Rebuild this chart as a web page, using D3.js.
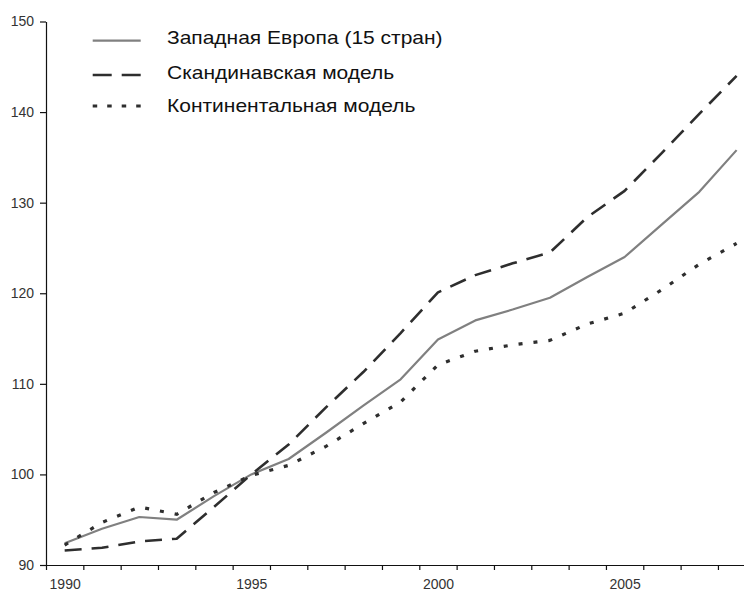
<!DOCTYPE html>
<html>
<head>
<meta charset="utf-8">
<script src="https://cdn.jsdelivr.net/npm/d3@7"></script>
<style>
  html, body { margin: 0; padding: 0; background: #fff; }
  svg { display: block; }
</style>
</head>
<body>
<script>
// ---- data ----
const years = [1990,1991,1992,1993,1994,1995,1996,1997,1998,1999,2000,2001,2002,2003,2004,2005,2006,2007,2008];
const westernEurope = [92.4,94.0,95.3,95.0,97.6,100.0,101.7,104.6,107.6,110.5,114.9,117.0,118.2,119.5,121.8,124.0,127.6,131.2,135.8];
const scandinavian  = [91.6,91.9,92.6,92.9,96.4,100.0,103.3,107.4,111.3,115.6,120.1,122.0,123.3,124.5,128.4,131.3,135.5,139.8,144.0];
const continental   = [92.2,94.7,96.4,95.6,98.0,99.9,101.0,103.1,105.6,108.0,112.1,113.6,114.3,114.8,116.6,117.8,120.4,123.2,125.5];
const seriesNames = ["Западная Европа (15 стран)", "Скандинавская модель", "Континентальная модель"];
const yTicks = [90,100,110,120,130,140,150];
const labelEvery = 5;

// ---- layout ----
const W = 744, H = 594;
const x0 = 46, band = 37.33, yBottom = 565, yTop = 21.5;

const svg = d3.select("body").append("svg").attr("width", W).attr("height", H);

const xEdge = d3.scaleLinear().domain([0, years.length]).range([x0, x0 + years.length * band]);
const y = d3.scaleLinear().domain([90, 150]).range([yBottom, yTop]);

const tickFont = "'Liberation Sans', Arial, sans-serif";

// y axis
const yAxis = svg.append("g")
  .attr("transform", `translate(${x0},0)`)
  .call(d3.axisLeft(y).tickValues(yTicks).tickSize(6).tickSizeOuter(0).tickPadding(6).tickFormat(d3.format("d")));
yAxis.selectAll("path, line").attr("stroke", "#111").attr("stroke-width", 1.2);
yAxis.selectAll("text").attr("font-family", tickFont).attr("font-size", 14).attr("fill", "#333");

// x axis (ticks at year boundaries)
const xAxis = svg.append("g")
  .attr("transform", `translate(0,${yBottom})`)
  .call(d3.axisBottom(xEdge).tickValues(d3.range(0, years.length + 1)).tickSize(5).tickSizeOuter(0).tickFormat(""));
xAxis.selectAll("path, line").attr("stroke", "#111").attr("stroke-width", 1.2);

// x labels at band centers
const labelIdx = years.map((yr, i) => i).filter(i => years[i] % labelEvery === 0);
const xLab = svg.append("g")
  .attr("transform", `translate(0,${yBottom})`)
  .call(d3.axisBottom(xEdge).tickValues(labelIdx.map(i => i + 0.5)).tickSize(0).tickPadding(14)
        .tickFormat(v => years[Math.round(v - 0.5)]));
xLab.select(".domain").remove();
xLab.selectAll("text").attr("font-family", tickFont).attr("font-size", 14).attr("fill", "#333");

// lines
const styles = [
  { data: westernEurope, stroke: "#808080", width: 2.2, dash: null, legendDash: null },
  { data: scandinavian,  stroke: "#2e2e2e", width: 2.6, dash: "17,10", legendDash: "19,10" },
  { data: continental,   stroke: "#2e2e2e", width: 3.2, dash: "4,11", legendDash: "4.5,10" }
];
const line = d3.line().x((d, i) => xEdge(i + 0.5)).y(d => y(d));
styles.forEach(s => {
  svg.append("path")
    .datum(s.data)
    .attr("fill", "none")
    .attr("stroke", s.stroke)
    .attr("stroke-width", s.width)
    .attr("stroke-dasharray", s.dash)
    .attr("stroke-linejoin", "round")
    .attr("d", line);
});

// legend
const legendLineY = [40.7, 75, 106];
const legendTextY = [44, 78.5, 112];
const lg = svg.append("g");
styles.forEach((s, i) => {
  lg.append("line")
    .attr("x1", 92.7).attr("x2", 140.7)
    .attr("y1", legendLineY[i]).attr("y2", legendLineY[i])
    .attr("stroke", s.stroke)
    .attr("stroke-width", s.width)
    .attr("stroke-dasharray", s.legendDash);
  lg.append("text")
    .attr("transform", `translate(167,${legendTextY[i]}) scale(1.2,1)`)
    .attr("font-family", "'Liberation Sans', Arial, sans-serif")
    .attr("font-size", 17.5)
    .attr("fill", "#111")
    .text(seriesNames[i]);
});
</script>
</body>
</html>
